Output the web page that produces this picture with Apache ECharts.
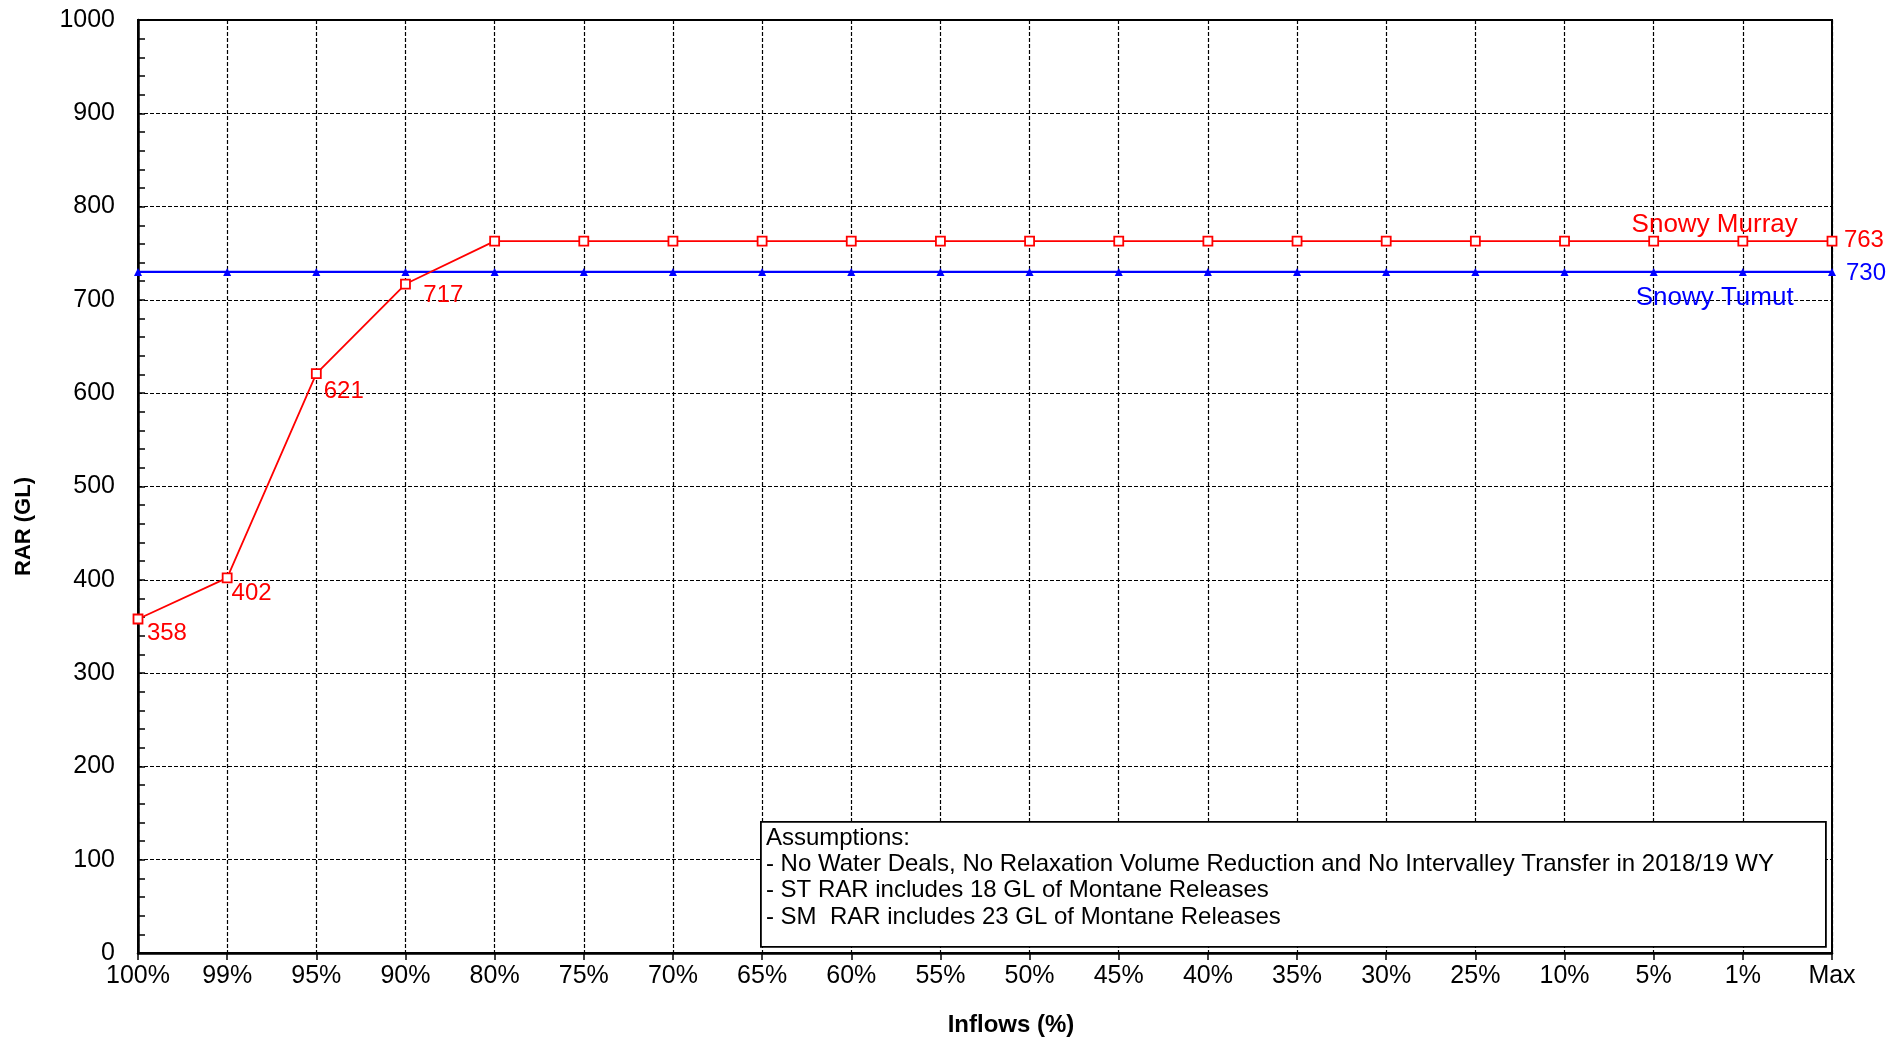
<!DOCTYPE html>
<html>
<head>
<meta charset="utf-8">
<script src="https://cdn.jsdelivr.net/npm/echarts@6/dist/echarts.min.js"></script>
<style>
html,body{margin:0;padding:0;background:#fff;}
#chart{width:1895px;height:1038px;}
</style>
</head>
<body>
<div id="chart"></div>
<script>
const categories = ['100%','99%','95%','90%','80%','75%','70%','65%','60%','55%','50%','45%','40%','35%','30%','25%','10%','5%','1%','Max'];
const snowyMurray = [358,402,621,717,763,763,763,763,763,763,763,763,763,763,763,763,763,763,763,763];
const snowyTumut = [730,730,730,730,730,730,730,730,730,730,730,730,730,730,730,730,730,730,730,730];
const yTicks = {min:0, max:1000, interval:100};
const assumptions = [
  'Assumptions:',
  '- No Water Deals, No Relaxation Volume Reduction and No Intervalley Transfer in 2018/19 WY',
  '- ST RAR includes 18 GL of Montane Releases',
  '- SM  RAR includes 23 GL of Montane Releases'
];

const FONT = '"Liberation Sans", Arial, sans-serif';
const RED = '#ff0000', BLUE = '#0000ff';

// label placement (style only): data index -> [dx, dy]
const murrayLabelOffsets = {0: [-1.5, 14], 1: [-6, 15], 2: [-3, 18], 3: [7.5, 11], 19: [1.5, -1]};
const tumutLabelOffsets = {19: [5, 1]};

function withLabels(values, offsets) {
  return values.map((v, i) => offsets[i]
    ? {value: v, label: {show: true, position: 'right', offset: offsets[i]}}
    : {value: v});
}

const chart = echarts.init(document.getElementById('chart'));
chart.setOption({
  animation: false,
  backgroundColor: '#fff',
  textStyle: {fontFamily: FONT},
  grid: {left: 138, right: 63, top: 20, bottom: 85, outerBoundsMode: 'none', containLabel: false, show: true, borderColor: '#000', borderWidth: 2, backgroundColor: 'transparent'},
  xAxis: {
    type: 'category',
    data: categories,
    boundaryGap: false,
    name: 'Inflows (%)',
    nameLocation: 'middle',
    nameGap: 60,
    nameTextStyle: {fontFamily: FONT, fontSize: 24, fontWeight: 'bold', color: '#000', padding: [0,0,0,52]},
    axisLine: {show: true, lineStyle: {color: '#000', width: 2.5}},
    axisTick: {show: true, inside: false, length: 7, alignWithLabel: true, lineStyle: {color: '#000', width: 1.5}},
    axisLabel: {fontFamily: FONT, fontSize: 25, color: '#000', margin: 11, interval: 0},
    splitLine: {show: true, lineStyle: {color: '#000', type: [4, 2], width: 1.2}}
  },
  yAxis: {
    type: 'value',
    min: yTicks.min, max: yTicks.max, interval: yTicks.interval,
    name: 'RAR (GL)',
    nameLocation: 'middle',
    nameGap: 103,
    nameTextStyle: {fontFamily: FONT, fontSize: 22, fontWeight: 'bold', color: '#000', padding: [0, 80, 0, 0]},
    axisLine: {show: true, lineStyle: {color: '#000', width: 2.5}},
    axisTick: {show: true, inside: true, length: 7, lineStyle: {color: '#000', width: 1.5}},
    minorTick: {show: true, splitNumber: 5, length: 7, lineStyle: {color: '#000', width: 1.5}},
    axisLabel: {fontFamily: FONT, fontSize: 25, color: '#000', margin: 23, formatter: v => String(v)},
    splitLine: {show: true, lineStyle: {color: '#000', type: [4, 2], width: 1.2}}
  },
  series: [
    {
      name: 'Snowy Tumut',
      type: 'line',
      data: withLabels(snowyTumut, tumutLabelOffsets),
      symbol: 'triangle',
      symbolSize: 8,
      lineStyle: {color: BLUE, width: 2.2},
      itemStyle: {color: BLUE},
      label: {show: false, color: BLUE, fontFamily: FONT, fontSize: 24},
      markPoint: {
        symbol: 'circle', symbolSize: 0,
        data: [{coord: ['5%', 730], value: 'Snowy Tumut'}],
        label: {show: true, formatter: 'Snowy Tumut', color: BLUE, fontFamily: FONT, fontSize: 26, offset: [61, 26], position: 'inside'}
      },
      z: 3
    },
    {
      name: 'Snowy Murray',
      type: 'line',
      data: withLabels(snowyMurray, murrayLabelOffsets),
      symbol: 'rect',
      symbolSize: 9,
      lineStyle: {color: RED, width: 1.8},
      itemStyle: {color: '#fff', borderColor: RED, borderWidth: 1.8},
      label: {show: false, color: RED, fontFamily: FONT, fontSize: 24},
      markPoint: {
        symbol: 'circle', symbolSize: 0,
        data: [{coord: ['5%', 763], value: 'Snowy Murray'}],
        label: {show: true, formatter: 'Snowy Murray', color: RED, fontFamily: FONT, fontSize: 26, offset: [61, -16], position: 'inside'}
      },
      z: 4
    }
  ],
  graphic: [
    {
      type: 'group',
      left: 760, top: 821,
      z: 100,
      children: [
        {type: 'rect', z: 100, shape: {x: 0, y: 0, width: 1065, height: 125}, style: {fill: '#fff', stroke: '#000', lineWidth: 1.8}},
        {type: 'text', z: 101, left: 5, top: 3, style: {text: assumptions.join('\n'), font: '24px ' + FONT, fill: '#000', lineHeight: 26.3}}
      ]
    }
  ]
});
</script>
</body>
</html>
